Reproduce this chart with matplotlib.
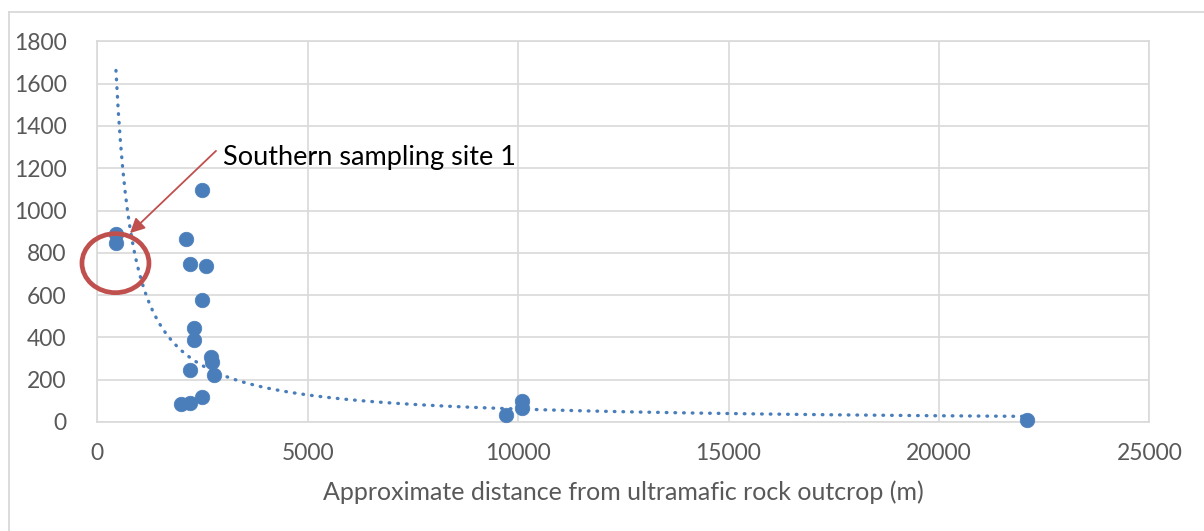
import numpy as np
import matplotlib
matplotlib.use('Agg')
import matplotlib.pyplot as plt
from matplotlib.patches import Ellipse
from matplotlib.lines import Line2D

# sample distance from outcrop (m) and measured value
distance = [444, 444, 2101, 2203, 2590, 2495, 2495, 2298, 2298, 2695,
            2720, 2196, 2780, 2495, 2001, 2203, 9705, 10085, 10085, 22094]
value = [891, 847, 863, 748, 738, 1096, 576, 443, 387, 307,
         283, 244, 221, 119, 83, 90, 33, 99, 66, 9]

x_ticks = [0, 5000, 10000, 15000, 20000, 25000]
y_ticks = [0, 200, 400, 600, 800, 1000, 1200, 1400, 1600, 1800]
x_label = 'Approximate distance from ultramafic rock outcrop (m)'
note = 'Southern sampling site 1'

blue = '#4A7EBB'
red = '#C0504D'
grid = '#D9D9D9'
tick_col = '#595959'

plt.rcParams['font.family'] = ['Lato', 'DejaVu Sans']

fig = plt.figure(figsize=(12.04, 5.31), dpi=100)
ax = fig.add_axes([0.0808, 0.2053, 0.9546 - 0.0808, 0.9222 - 0.2053])

# power trendline, least squares in log space (like Excel)
xs = np.array(distance, dtype=float)
ys = np.array(value, dtype=float)
b, lna = np.polyfit(np.log(xs), np.log(ys), 1)
xt = np.linspace(xs.min(), xs.max(), 400)
yt = np.exp(lna) * xt ** b
ax.plot(xt, yt, color=blue, lw=2.4, linestyle=(0, (0.2, 2.4)),
        dash_capstyle='round', zorder=2)

ax.scatter(distance, value, s=110, color=blue, edgecolors=blue,
           linewidths=0.5, zorder=3, clip_on=False)

ax.set_xlim(0, 25000)
ax.set_ylim(0, 1800)
ax.set_xticks(x_ticks)
ax.set_yticks(y_ticks)
ax.grid(True, color=grid, lw=1.2, zorder=0)
ax.set_axisbelow(True)
for s in ax.spines.values():
    s.set_color(grid)
    s.set_linewidth(1.2)
ax.tick_params(length=0, labelsize=16.5, labelcolor=tick_col)
ax.tick_params(axis='y', pad=22)
ax.tick_params(axis='x', pad=15)
ax.set_xlabel(x_label, fontsize=18, color=tick_col, labelpad=12)

# circle and arrow marking the southern site
ax.add_patch(Ellipse((432, 751), 1592, 279, fill=False, edgecolor=red,
                     lw=3.4, zorder=4, clip_on=False))
ax.annotate('', xy=(777, 893), xytext=(2821, 1282),
            arrowprops=dict(arrowstyle='-|>', color=red, lw=1.3,
                            mutation_scale=22, shrinkA=0, shrinkB=0),
            zorder=4)
ax.text(2990, 1214, note, fontsize=19.5, color='black', va='baseline',
        ha='left', zorder=5)

# chart area border (top and left only visible)
fig.add_artist(Line2D([9 / 1204, 1], [1 - 12 / 531, 1 - 12 / 531],
                      color=grid, lw=1.3, transform=fig.transFigure))
fig.add_artist(Line2D([9 / 1204, 9 / 1204], [0, 1 - 12 / 531],
                      color=grid, lw=1.3, transform=fig.transFigure))

fig.savefig('out.png', dpi=100)
